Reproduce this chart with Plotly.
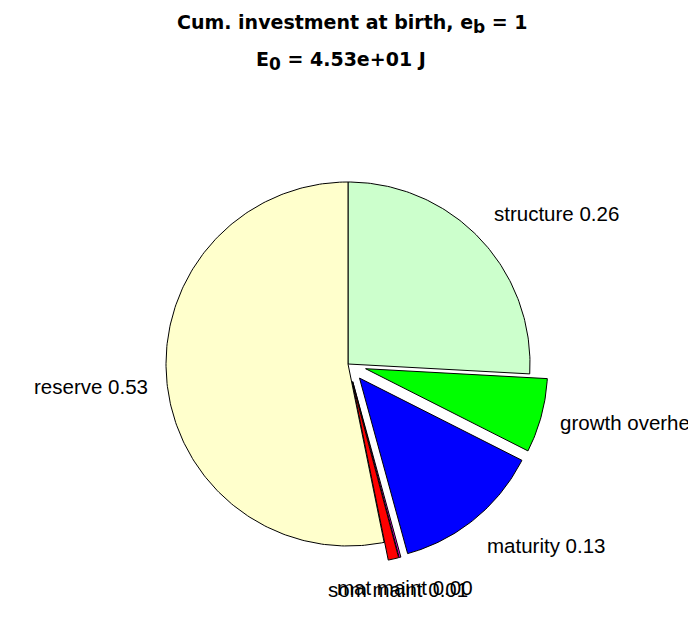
import numpy as np
import plotly.graph_objects as go

# ---- data ----
labels = ["structure", "growth overhead", "maturity", "mat maint", "som maint", "reserve"]
fractions = [0.259, 0.066, 0.133, 0.0015, 0.0093, 0.5325]
explode = [0, 1, 1, 1, 1, 0]
colors = ["#CCFFCC", "#00FF00", "#0000FF", "#FF00FF", "#FF0000", "#FFFFCC"]
title_line1 = 'Cum. investment at birth, e<sub><span style="font-size:17px">b</span></sub> = 1'
title_line2 = 'E<sub><span style="font-size:17px">0</span></sub> = 4.53e+01 J'

FONT = "Liberation Sans, Arial, Helvetica, sans-serif"
TFONT = "DejaVu Sans, Liberation Sans, Arial, sans-serif"

vals = np.array(fractions, dtype=float)
vals = vals / vals.sum()

fig = go.Figure()
annotations = []
cum = 0.0
for lab, f, ex, col in zip(labels, vals, explode, colors):
    a0 = np.pi / 2 - 2 * np.pi * cum
    a1 = np.pi / 2 - 2 * np.pi * (cum + f)
    mid = (a0 + a1) / 2
    n = max(2, int(np.ceil(400 * f)))
    th = np.linspace(a0, a1, n + 1)
    ox = 0.1 * np.cos(mid) * ex
    oy = 0.1 * np.sin(mid) * ex
    px = np.concatenate([[0], np.cos(th), [0]]) + ox
    py = np.concatenate([[0], np.sin(th), [0]]) + oy
    fig.add_trace(go.Scatter(x=px, y=py, mode="lines", fill="toself",
                             fillcolor=col, line=dict(color="black", width=1),
                             hoverinfo="skip", showlegend=False))
    rt = 1.1 + 0.1 * ex
    c, s = np.cos(mid), np.sin(mid)
    xa = "left" if c > 0.3827 else ("right" if c < -0.3827 else "center")
    ya = "bottom" if s > 0.3827 else ("top" if s < -0.3827 else "middle")
    ys = -2.5 if ya == "middle" else 0
    annotations.append(dict(x=rt * c, y=rt * s, xref="x", yref="y",
                            text=f"{lab} {f:.2f}", showarrow=False,
                            xanchor=xa, yanchor=ya, borderpad=0, yshift=ys,
                            font=dict(family=FONT, size=20.5, color="black")))
    cum += f

# page has an 8px body margin: figure is 688x602, drawn from page (8, 8)
W, H = 688, 602
R = 182.0
cx, cy = 340.0, 356.0

annotations.append(dict(x=0.5, y=1 - 15.5 / H, xref="paper", yref="paper",
                        text=f"<b>{title_line1}</b>", showarrow=False,
                        xanchor="center", yanchor="middle",
                        font=dict(family=TFONT, size=19, color="black")))
annotations.append(dict(x=333.0 / W, y=1 - 52.5 / H, xref="paper", yref="paper",
                        text=f"<b>{title_line2}</b>", showarrow=False,
                        xanchor="center", yanchor="middle",
                        font=dict(family=TFONT, size=19, color="black")))

fig.update_layout(
    width=W, height=H,
    margin=dict(l=0, r=0, t=0, b=0),
    paper_bgcolor="white", plot_bgcolor="white",
    xaxis=dict(visible=False, range=[-cx / R, (W - cx) / R], fixedrange=True),
    yaxis=dict(visible=False, range=[-(H - cy) / R, cy / R], fixedrange=True),
    annotations=annotations,
)

fig.write_html("out.html")
